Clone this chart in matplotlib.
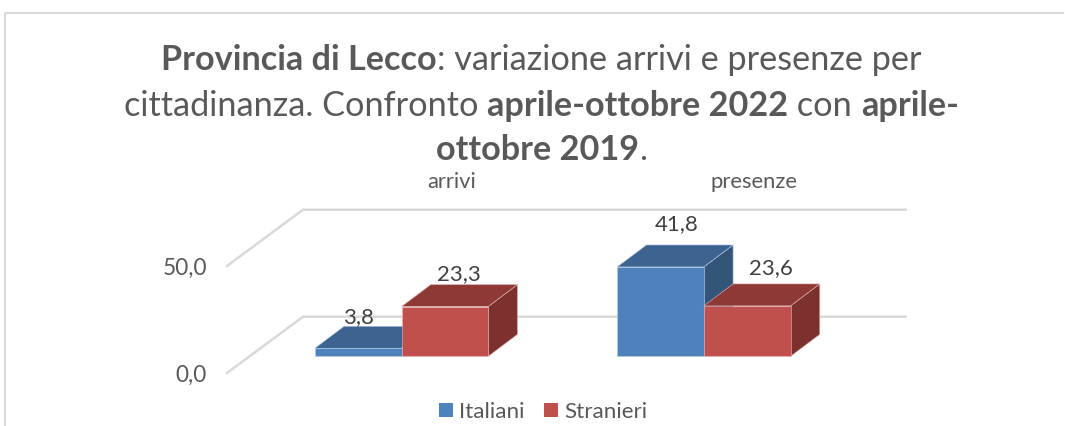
import matplotlib
matplotlib.use("Agg")
import matplotlib.pyplot as plt
from matplotlib.patches import Polygon, Patch

plt.rcParams['font.family'] = ['Lato', 'DejaVu Sans']

# ---- data
categories = ["arrivi", "presenze"]
series_names = ["Italiani", "Stranieri"]
italiani = [3.8, 41.8]
stranieri = [23.3, 23.6]
tick_values = [0, 50]
tick_labels = ["0,0", "50,0"]
title_lines = [
    [("Provincia di Lecco", True), (": variazione arrivi e presenze per", False)],
    [("cittadinanza. Confronto ", False), ("aprile-ottobre 2022", True), (" con ", False), ("aprile-", True)],
    [("ottobre 2019", True), (".", False)],
]

# ---- style
W, H = 1065, 426
PX_X, PX_Y = 302.3, 2.14      # pixels per category / per value unit
X0, Y0 = 401.5, 356.4         # pixel position of the first category centre and of value 0
BAR_W = 86.7 / PX_X
BAR_DX, BAR_DY = 29.3 / PX_X, 22 / PX_Y
FLOOR_FRONT = (227 - X0) / PX_X, -16.6 / PX_Y
FLOOR_BACK = (303 - X0) / PX_X, (Y0 - 316.7) / PX_Y
GRID_END = (905.5 - X0) / PX_X
COLORS = {"Italiani": ("#4F81BD", "#3D6390", "#335579"),
          "Stranieri": ("#C0504D", "#8F3936", "#7D312F")}
NUDGE = {("Italiani", 0): (0, 9), ("Italiani", 1): (16, 21),
         ("Stranieri", 0): (14, 10), ("Stranieri", 1): (24, 16)}
TEXT = "#595959"
LABEL = "#404040"
GRID = "#D9D9D9"

fig = plt.figure(figsize=(W / 100, H / 100), dpi=100, facecolor="white")
ax = fig.add_axes([0, 0, 1, 1])
ax.set_xlim((0 - X0) / PX_X, (W - X0) / PX_X)
ax.set_ylim((Y0 - H) / PX_Y, Y0 / PX_Y)
ax.axis("off")


def px(x, y):
    return x / W, 1 - y / H


# chart frame
fig.add_artist(plt.Line2D([5 / W, 5 / W, 1063 / W], [0, 1 - 13 / H, 1 - 13 / H],
                          color=GRID, lw=1.5))

# 3-D wall gridlines and value labels
for val, lab in zip(tick_values, tick_labels):
    ax.plot([FLOOR_FRONT[0], FLOOR_BACK[0], GRID_END],
            [FLOOR_FRONT[1] + val, FLOOR_BACK[1] + val, FLOOR_BACK[1] + val],
            color=GRID, lw=1.8, solid_joinstyle="miter", zorder=1)
    ax.annotate(lab, (FLOOR_FRONT[0], FLOOR_FRONT[1] + val), xytext=(-20, -2),
                textcoords="offset pixels", ha="right", va="center",
                fontsize=16.3, color=TEXT)


def bar3d(xl, val, name):
    front, top, side = COLORS[name]
    xr = xl + BAR_W
    edge = dict(edgecolor="#B9CDE5" if name == "Italiani" else "#E6B9B8", lw=0.4, zorder=3)
    ax.add_patch(Polygon([(xr, 0), (xr + BAR_DX, BAR_DY), (xr + BAR_DX, val + BAR_DY), (xr, val)],
                         facecolor=side, **edge))
    ax.add_patch(Polygon([(xl, val), (xl + BAR_DX, val + BAR_DY), (xr + BAR_DX, val + BAR_DY), (xr, val)],
                         facecolor=top, **edge))
    ax.add_patch(Polygon([(xl, 0), (xr, 0), (xr, val), (xl, val)], facecolor=front, **edge))


for i, cat in enumerate(categories):
    for j, (name, vals) in enumerate(zip(series_names, (italiani, stranieri))):
        xl = i - BAR_W + j * BAR_W
        bar3d(xl, vals[i], name)
        nx, ny = NUDGE[(name, i)]
        ax.annotate(f"{vals[i]:.1f}".replace(".", ","),
                    (xl + BAR_W / 2, vals[i] + BAR_DY), xytext=(nx, ny),
                    textcoords="offset pixels", ha="center", va="center",
                    fontsize=16, color=LABEL, zorder=5)
    ax.text(i + 50 / PX_X, (Y0 - 182) / PX_Y, cat, ha="center", va="center",
            fontsize=15.8, color=TEXT)

# title, mixed regular and bold runs
fig.canvas.draw()
rend = fig.canvas.get_renderer()
TITLE_SIZE = 24.7
for line, base in zip(title_lines, (70, 116, 160)):
    runs = []
    for s, bold in line:
        t = fig.text(0, 0, s, fontsize=TITLE_SIZE, color=TEXT, va="baseline",
                     fontweight="bold" if bold else "normal")
        # measure with sentinels so leading/trailing blanks count
        probe = fig.text(0, 0, "|" + s + "|", fontsize=TITLE_SIZE,
                         fontweight="bold" if bold else "normal")
        probe0 = fig.text(0, 0, "||", fontsize=TITLE_SIZE,
                          fontweight="bold" if bold else "normal")
        w = probe.get_window_extent(rend).width - probe0.get_window_extent(rend).width
        probe.remove()
        probe0.remove()
        runs.append((t, w))
    x = 541.5 - sum(w for _, w in runs) / 2
    for t, w in runs:
        t.set_position(px(x, base))
        x += w

# legend
handles = [Patch(facecolor=COLORS[n][0], edgecolor="none") for n in series_names]
fig.legend(handles, series_names, loc="center", bbox_to_anchor=px(543, 412), frameon=False,
           ncol=2, fontsize=16.2, labelcolor=TEXT, handlelength=0.62, handleheight=0.62,
           handletextpad=0.27, columnspacing=0.89, borderpad=0, borderaxespad=0)

fig.savefig("out.png", dpi=100)
